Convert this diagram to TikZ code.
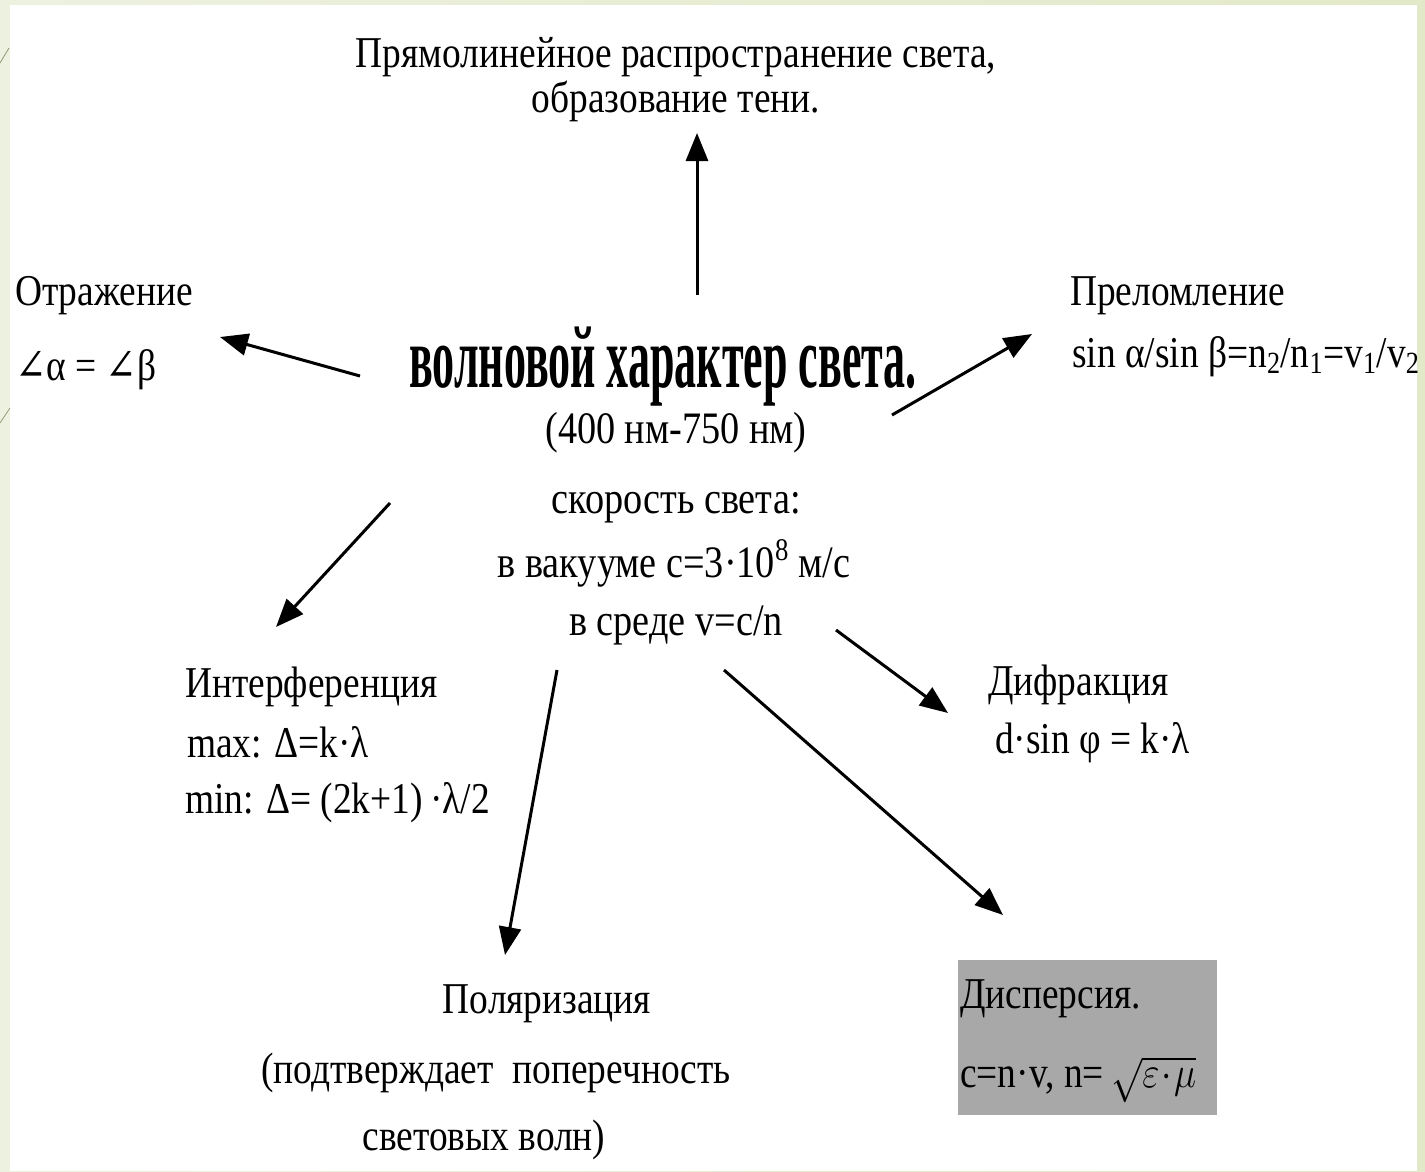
\RequirePackage{fix-cm}
\documentclass[tikz,border=0pt]{standalone}
\usepackage{graphicx}
\usepackage{fontspec}
\setmainfont{Liberation Serif}
\newfontfamily\txtf[FakeStretch=0.85]{Liberation Serif}
\newfontfamily\bldf[FakeStretch=0.5]{Liberation Serif}
\newfontfamily\symf[FakeStretch=0.85]{DejaVu Serif}
\usetikzlibrary{arrows.meta}
\definecolor{bgleft}{RGB}{237,241,224}
\definecolor{bgright}{RGB}{226,233,200}
\definecolor{boxgray}{RGB}{168,168,168}
\definecolor{edgeline}{RGB}{150,150,120}
\begin{document}
\begin{tikzpicture}[x=1pt,y=-1pt,
  lbl/.style={inner sep=0pt, font=\txtf\fontsize{44}{50}\selectfont},
  toplbl/.style={inner sep=0pt, font=\txtf\fontsize{44}{46}\selectfont},
  midlbl/.style={inner sep=0pt, font=\txtf\fontsize{45}{50}\selectfont},
  boldlbl/.style={inner sep=0pt, font=\bldf\bfseries\fontsize{88}{90}\selectfont},
  arr/.style={line width=3pt, -{Triangle[length=28pt,width=22pt]}}]
\useasboundingbox (0,0) rectangle (1425,1171);
% background
\shade[left color=bgleft, right color=bgright] (0,0) rectangle (1425,1171);
\fill[white] (10,5) rectangle (1417,1171);
\draw[edgeline, line width=0.8pt] (0,63) -- (9,48);
\draw[edgeline, line width=0.8pt] (0,423) -- (10,408);

% top
\node[toplbl, anchor=base] (top1) at (676,67) {Прямолинейное распространение света,};
\node[toplbl, anchor=base] (top2) at (676,112) {образование тени.};

% centre
\node[boldlbl, anchor=base] (c0) at (663,387) {волновой характер света.};
\node[midlbl, anchor=base] (c1) at (676,443) {(400 нм-750 нм)};
\node[midlbl, anchor=base] (c2) at (676,513) {скорость света:};
\node[midlbl, anchor=base] (c3) at (674,577) {в вакууме c=3·10\textsuperscript{8} м/с};
\node[midlbl, anchor=base] (c4) at (676,635) {в среде v=c/n};

% reflection
\node[lbl, anchor=base west] (r1) at (15,305) {Отражение};
\node[lbl, anchor=base west] (r2) at (15,380) {{\symf ∠}α = {\symf ∠}β};

% refraction
\node[lbl, anchor=base west] (p1) at (1070,305) {Преломление};
\node[lbl, anchor=base west] (p2) at (1072,367) {sin α/sin β=n\textsubscript{2}/n\textsubscript{1}=v\textsubscript{1}/v\textsubscript{2}};

% interference
\node[lbl, anchor=base west] (i1) at (185,697) {Интерференция};
\node[lbl, anchor=base west] (i2) at (187,757) {max: Δ=k·λ};
\node[lbl, anchor=base west] (i3) at (185,813) {min: Δ= (2k+1)\,·λ/2};

% diffraction
\node[lbl, anchor=base west] (d1) at (988,695) {Дифракция};
\node[lbl, anchor=base west] (d2) at (995,753) {d·sin φ = k·λ};

% polarization
\node[lbl, anchor=base] (pol1) at (547,1013) {Поляризация};
\node[lbl, anchor=base] (pol2) at (496,1083) {(подтверждает\ \ поперечность};
\node[lbl, anchor=base] (pol3) at (484,1150) {световых волн)};

% dispersion
\fill[boxgray] (958,960) rectangle (1217,1115);
\node[lbl, anchor=base west] (ds1) at (960,1008) {Дисперсия.};
\node[lbl, anchor=base west] (ds2) at (960,1087) {c=n·v, n=\,\scalebox{0.85}[1]{$\sqrt{\varepsilon\!\cdot\!\mu}$}};

% arrow end points
\coordinate (aTopT) at (697,295);  \coordinate (aTopH) at (697,133);
\coordinate (aLT) at (360,376);    \coordinate (aLH) at (220,337);
\coordinate (aRT) at (892,415);    \coordinate (aRH) at (1032,334);
\coordinate (aIT) at (390,503);    \coordinate (aIH) at (276,627);
\coordinate (aPT) at (557,670);    \coordinate (aPH) at (505,955);
\coordinate (aDT) at (836,630);    \coordinate (aDH) at (948,713);
\coordinate (aST) at (724,670);    \coordinate (aSH) at (1003,915);

\draw[arr] (aTopT) -- (aTopH);
\draw[arr] (aLT) -- (aLH);
\draw[arr] (aRT) -- (aRH);
\draw[arr] (aIT) -- (aIH);
\draw[arr] (aPT) -- (aPH);
\draw[arr] (aDT) -- (aDH);
\draw[arr] (aST) -- (aSH);
\end{tikzpicture}
\end{document}
